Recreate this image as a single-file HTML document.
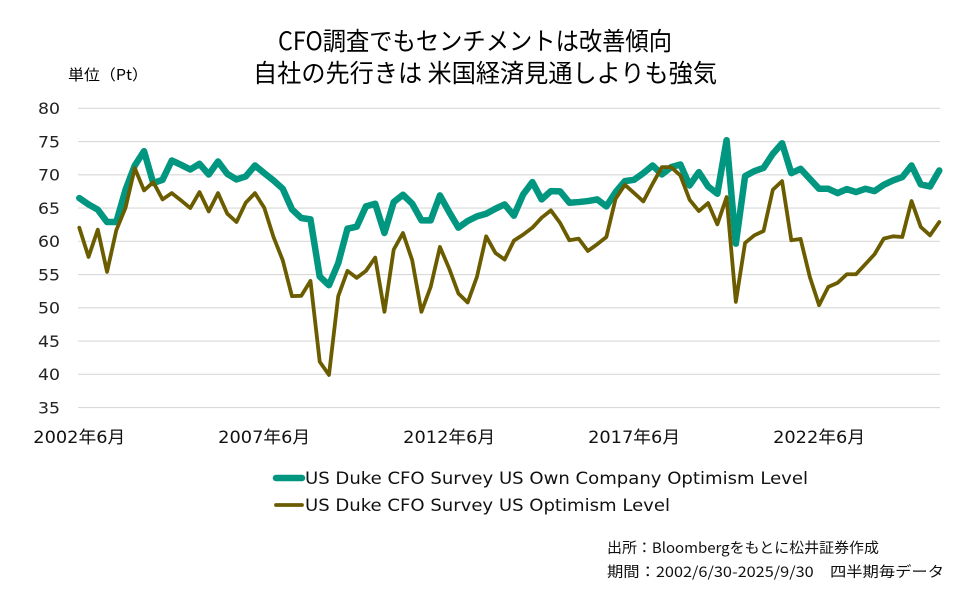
<!DOCTYPE html>
<html>
<head>
<meta charset="utf-8">
<style>
  html,body{margin:0;padding:0;background:#fff;}
  body{width:975px;height:595px;overflow:hidden;}
  svg{display:block;}
  .cjk{font-family:"Noto Sans CJK JP","Liberation Sans",sans-serif;}
  .lat{font-family:"DejaVu Sans","Noto Sans CJK JP",sans-serif;}
</style>
</head>
<body>
<svg width="975" height="595" viewBox="0 0 975 595" xmlns="http://www.w3.org/2000/svg">
  <rect width="975" height="595" fill="#fff"/>

  <!-- Title -->
  <text class="cjk" x="278" y="50" font-size="25" fill="#000" textLength="394" lengthAdjust="spacingAndGlyphs">CFO調査でもセンチメントは改善傾向</text>
  <text class="cjk" x="253" y="82" font-size="25" fill="#000" textLength="464" lengthAdjust="spacingAndGlyphs">自社の先行きは 米国経済見通しよりも強気</text>
  <text class="cjk" x="68" y="80" font-size="15" fill="#000" textLength="80" lengthAdjust="spacingAndGlyphs">単位（Pt）</text>

  <!-- Gridlines -->
  <g stroke="#d9d9d9" stroke-width="1.2">
    <line x1="78" x2="940" y1="108.3" y2="108.3"/>
    <line x1="78" x2="940" y1="141.55" y2="141.55"/>
    <line x1="78" x2="940" y1="174.8" y2="174.8"/>
    <line x1="78" x2="940" y1="208.05" y2="208.05"/>
    <line x1="78" x2="940" y1="241.3" y2="241.3"/>
    <line x1="78" x2="940" y1="274.55" y2="274.55"/>
    <line x1="78" x2="940" y1="307.8" y2="307.8"/>
    <line x1="78" x2="940" y1="341.05" y2="341.05"/>
    <line x1="78" x2="940" y1="374.3" y2="374.3"/>
    <line x1="78" x2="940" y1="407.55" y2="407.55"/>
  </g>

  <!-- Y labels -->
  <g class="lat" font-size="16" fill="#222" text-anchor="end">
    <text x="60" y="114" textLength="22" lengthAdjust="spacingAndGlyphs">80</text>
    <text x="60" y="147.3" textLength="22" lengthAdjust="spacingAndGlyphs">75</text>
    <text x="60" y="180.5" textLength="22" lengthAdjust="spacingAndGlyphs">70</text>
    <text x="60" y="213.8" textLength="22" lengthAdjust="spacingAndGlyphs">65</text>
    <text x="60" y="247" textLength="22" lengthAdjust="spacingAndGlyphs">60</text>
    <text x="60" y="280.3" textLength="22" lengthAdjust="spacingAndGlyphs">55</text>
    <text x="60" y="313.5" textLength="22" lengthAdjust="spacingAndGlyphs">50</text>
    <text x="60" y="346.8" textLength="22" lengthAdjust="spacingAndGlyphs">45</text>
    <text x="60" y="380" textLength="22" lengthAdjust="spacingAndGlyphs">40</text>
    <text x="60" y="413.3" textLength="22" lengthAdjust="spacingAndGlyphs">35</text>
  </g>

  <!-- X labels -->
  <g class="lat" font-size="17" fill="#111" text-anchor="middle">
    <text x="79.3" y="443" textLength="92" lengthAdjust="spacingAndGlyphs">2002年6月</text>
    <text x="264.2" y="443" textLength="92" lengthAdjust="spacingAndGlyphs">2007年6月</text>
    <text x="449.2" y="443" textLength="92" lengthAdjust="spacingAndGlyphs">2012年6月</text>
    <text x="634.1" y="443" textLength="92" lengthAdjust="spacingAndGlyphs">2017年6月</text>
    <text x="819.1" y="443" textLength="92" lengthAdjust="spacingAndGlyphs">2022年6月</text>
  </g>

  <!-- Series -->
  <g transform="matrix(9.247 0 0 -6.65 79.3 640.3)" fill="none" stroke-linejoin="round" stroke-linecap="round">
    <polyline vector-effect="non-scaling-stroke" stroke="#00967F" stroke-width="6.5" points="
0,66.5 1,65.55 2,64.75 3,62.9 4,62.9 5,67.75 6,71.4 7,73.55 8,68.75 9,69.25
10,72.15 11,71.5 12,70.8 13,71.65 14,70.05 15,72.0 16,70.15 17,69.3 18,69.75 19,71.4
20,70.25 21,69.15 22,67.9 23,64.8 24,63.5 25,63.3 26,54.7 27,53.4 28,56.7 29,61.9
30,62.2 31,65.25 32,65.65 33,61.25 34,65.9 35,67.0 36,65.65 37,63.15 38,63.15 39,66.9
40,64.4 41,62.05 42,63.05 43,63.75 44,64.15 45,64.9 46,65.55 47,63.85 48,67.05 49,68.9
50,66.3 51,67.55 52,67.5 53,65.8 54,65.9 55,66.05 56,66.3 57,65.25 58,67.4 59,69.05
60,69.25 61,70.25 62,71.4 63,70.05 64,71.15 65,71.55 66,68.4 67,70.4 68,68.25 69,67.15
70,75.2 71,59.65 72,69.8 73,70.55 74,71.05 75,73.15 76,74.75 77,70.25 78,70.9 79,69.4
80,67.9 81,67.9 82,67.25 83,67.85 84,67.4 85,67.9 86,67.55 87,68.5 88,69.15 89,69.65
90,71.4 91,68.55 92,68.25 93,70.65"/>
    <polyline vector-effect="non-scaling-stroke" stroke="#6B5C00" stroke-width="3.8" points="
0,62.05 1,57.65 2,61.75 3,55.4 4,61.65 5,65.05 6,71.0 7,67.65 8,68.9 9,66.3
10,67.25 11,66.15 12,65.0 13,67.4 14,64.5 15,67.25 16,64.15 17,62.9 18,65.8 19,67.25
20,65.05 21,60.65 22,57.15 23,51.75 24,51.8 25,54.05 26,41.9 27,39.9 28,51.75 29,55.55
30,54.5 31,55.55 32,57.55 33,49.4 34,58.75 35,61.25 36,57.15 37,49.4 38,53.15 39,59.15
40,55.9 41,52.15 42,50.8 43,54.65 44,60.75 45,58.25 46,57.25 47,60.1 48,61.0 49,62.05
50,63.55 51,64.65 52,62.75 53,60.15 54,60.4 55,58.55 56,59.55 57,60.65 58,66.4 59,68.5
60,67.25 61,66.0 62,68.65 63,71.15 64,71.15 65,69.9 66,66.25 67,64.55 68,65.75 69,62.55
70,66.65 71,50.9 72,59.75 73,60.9 74,61.55 75,67.75 76,69.05 77,60.15 78,60.35 79,54.65
80,50.4 81,53.15 82,53.75 83,55.05 84,55.05 85,56.55 86,58.05 87,60.4 88,60.75 89,60.65
90,66.05 91,62.15 92,60.9 93,62.9"/>
  </g>

  <!-- Legend -->
  <line x1="276" y1="478" x2="302" y2="478" stroke="#00967F" stroke-width="6.5" stroke-linecap="round"/>
  <text class="lat" x="305" y="484" font-size="17" fill="#111" textLength="503" lengthAdjust="spacingAndGlyphs">US Duke CFO Survey US Own Company Optimism Level</text>
  <line x1="276" y1="505" x2="302" y2="505" stroke="#6B5C00" stroke-width="3.8" stroke-linecap="round"/>
  <text class="lat" x="305" y="511" font-size="17" fill="#111" textLength="365" lengthAdjust="spacingAndGlyphs">US Duke CFO Survey US Optimism Level</text>

  <!-- Footer -->
  <text class="cjk" x="607" y="553" font-size="14.5" fill="#111" textLength="272" lengthAdjust="spacingAndGlyphs">出所：Bloombergをもとに松井証券作成</text>
  <text class="cjk" x="607" y="577" font-size="14.5" fill="#111" textLength="337" lengthAdjust="spacingAndGlyphs">期間：2002/6/30-2025/9/30　四半期毎データ</text>
</svg>
</body>
</html>
